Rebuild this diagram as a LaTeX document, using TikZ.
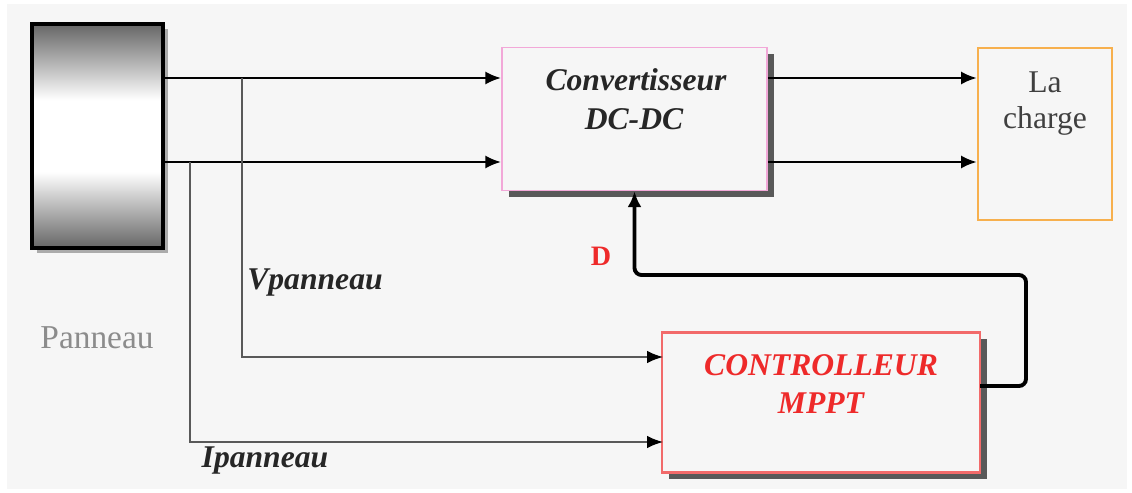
\documentclass[tikz,border=0pt]{standalone}
\usepackage{fontspec}
\setmainfont{Liberation Serif}
\usetikzlibrary{arrows.meta,shadows,calc}

\definecolor{BgGray}{HTML}{F6F6F6}
\definecolor{PinkEdge}{HTML}{F2A8D8}
\definecolor{OrangeEdge}{HTML}{F7B04E}
\definecolor{RedEdge}{HTML}{F26A6A}
\definecolor{RedTxt}{HTML}{EE2A2A}
\definecolor{GrayTxt}{HTML}{8C8C8C}

\pgfdeclareverticalshading{PanShade}{100bp}{
    color(0bp)=(black!60); color(25bp)=(black!60); color(42bp)=(white);
    color(58bp)=(white); color(75bp)=(black!60); color(100bp)=(black!60)}

\begin{document}
\begin{tikzpicture}[x=0.02cm,y=-0.02cm,
        BoxCfg/.style={
            draw,
            inner sep=0pt,
            fill=BgGray,
            line width=1pt,
            drop shadow={shadow xshift=4pt,shadow yshift=-3.5pt,fill=black!65,opacity=1}
        },
        PwrLine/.style={line width=1.5pt,-{Latex[length=9pt,width=7.5pt]}},
        SenseLine/.style={line width=0.8pt,draw=black!65,-{Latex[length=9pt,width=7pt,black]}},
        FbLine/.style={line width=2.2pt,rounded corners=4pt,-{Latex[length=9pt,width=8pt]}},
        TxtCfg/.style={anchor=base,font=\fontsize{18}{20}\selectfont\bfseries\itshape}
    ]
    
    %background
    \useasboundingbox (0,0) rectangle (1132,493);
    \fill[white] (0,0) rectangle (1132,493);
    \fill[BgGray] (7,4) rectangle (1127,489);
    
    %panneau
    \node[draw=black,line width=2.6pt,minimum width=2.62cm,minimum height=4.48cm,
        shading=PanShade,
        drop shadow={shadow xshift=3pt,shadow yshift=-3pt,fill=black!40,opacity=0.8}] (pan) at (97.5,136) {};
    \node[anchor=base,font=\fontsize{19}{21}\selectfont,text=GrayTxt] (panT) at (97,348) {Panneau};
    
    %convertisseur DC-DC
    \node[BoxCfg,draw=PinkEdge,minimum width=5.3cm,minimum height=2.86cm] (conv) at (634.5,119) {};
    \node[TxtCfg,text=black!85] (convT1) at (636,91) {Convertisseur};
    \node[TxtCfg,text=black!85] (convT2) at (634,130) {DC-DC};
    
    %charge
    \node[draw=OrangeEdge,line width=1.3pt,inner sep=0pt,minimum width=2.68cm,minimum height=3.44cm] (load) at (1045,134) {};
    \node[anchor=base,font=\fontsize{18}{20}\selectfont,text=black!75] (loadT1) at (1045,93) {La};
    \node[anchor=base,font=\fontsize{18}{20}\selectfont,text=black!75] (loadT2) at (1045,129) {charge};
    
    %controlleur MPPT
    \node[BoxCfg,draw=RedEdge,line width=1.3pt,minimum width=6.36cm,minimum height=2.8cm] (ctrl) at (821,402.5) {};
    \node[TxtCfg,text=RedTxt] (ctrlT1) at (821,375) {CONTROLLEUR};
    \node[TxtCfg,text=RedTxt] (ctrlT2) at (821,413) {MPPT};
    
    %taps and ends
    \coordinate (vtap) at (242,78);
    \coordinate (itap) at (190,162);
    \coordinate (vin) at (663,357);
    \coordinate (iin) at (663,442);
    \coordinate (dout) at (980,386);
    \coordinate (dturn) at (1026,275);
    
    %connections
    \draw[PwrLine] (pan.east |- vtap)--(conv.west |- vtap);
    \draw[PwrLine] (pan.east |- itap)--(conv.west |- itap);
    \draw[PwrLine] (conv.east |- vtap)--(load.west |- vtap);
    \draw[PwrLine] (conv.east |- itap)--(load.west |- itap);
    \draw[SenseLine] (vtap)|-(vin);
    \draw[SenseLine] (itap)|-(iin);
    \draw[FbLine] (dout)--(dturn |- dout)--(dturn)-|(conv.south);
    
    %labels
    \node[TxtCfg,text=black!85] (vlab) at (315,289) {Vpanneau};
    \node[TxtCfg,text=black!85] (ilab) at (265,467) {Ipanneau};
    \node[anchor=base,font=\fontsize{16}{18}\selectfont\bfseries,text=RedTxt] (dlab) at (601,265) {D};
    
\end{tikzpicture}
\end{document}
